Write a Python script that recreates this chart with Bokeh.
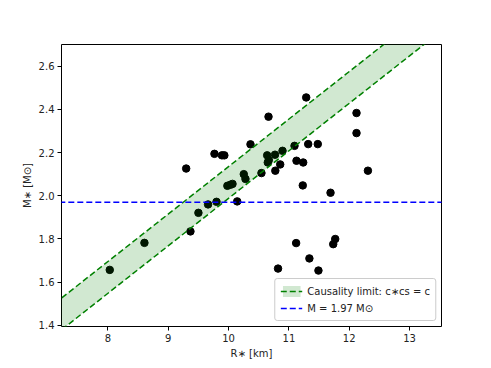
from bokeh.plotting import figure
from bokeh.models import (ColumnDataSource, Range1d, FixedTicker, Legend, LegendItem,
                          PrintfTickFormatter)
from bokeh.embed import file_html
from bokeh.resources import INLINE

# ---- data ----
radius_km = [8.03, 8.605, 9.297, 9.368, 9.50, 9.66, 9.766, 9.89, 9.93, 9.80,
             10.143, 9.98, 10.03, 10.065, 10.252, 10.28, 10.363, 10.545, 10.64, 10.662,
             10.667, 10.65, 10.77, 10.775, 10.856, 10.894, 11.093, 11.126, 11.237, 11.287,
             11.32, 11.479, 11.23, 11.69, 12.121, 12.121, 12.31, 11.12, 11.768, 11.735,
             11.34, 10.82, 11.49]
mass_msun = [1.657, 1.782, 2.126, 1.835, 1.921, 1.960, 2.194, 2.187, 2.187, 1.972,
             1.974, 2.046, 2.051, 2.055, 2.100, 2.078, 2.238, 2.105, 2.187, 2.366,
             2.165, 2.154, 2.190, 2.116, 2.145, 2.208, 2.231, 2.162, 2.154, 2.455,
             2.239, 2.239, 2.048, 2.014, 2.383, 2.290, 2.116, 1.781, 1.800, 1.776,
             1.710, 1.663, 1.654]

band_r = [7.0, 14.0]
band_upper = [1.476, 3.014]
band_lower = [1.329, 2.867]

m_limit = 1.97

x_ticks = [8, 9, 10, 11, 12, 13]
y_ticks = [1.4, 1.6, 1.8, 2.0, 2.2, 2.4, 2.6]

FONT = "DejaVu Sans"

p = figure(width=483, height=362, output_backend="svg", toolbar_location=None,
           x_range=Range1d(7.23, 13.53), y_range=Range1d(1.395, 2.70),
           min_border_left=61, min_border_right=42, min_border_top=44, min_border_bottom=36)
p.background_fill_color = "white"
p.border_fill_color = "white"
p.outline_line_color = "black"
p.outline_line_width = 1
p.outline_line_alpha = 1
p.xgrid.visible = False
p.ygrid.visible = False

for ax in (p.xaxis[0], p.yaxis[0]):
    ax.major_tick_in = 0
    ax.major_tick_out = 4
    ax.minor_tick_in = 0
    ax.minor_tick_out = 0
    ax.axis_line_color = None
    ax.major_tick_line_color = "black"
    ax.major_label_text_font = FONT
    ax.major_label_text_font_size = "10px"
    ax.major_label_text_color = "#222222"
    ax.axis_label_text_font = FONT
    ax.axis_label_text_font_size = "10px"
    ax.axis_label_text_font_style = "normal"
    ax.axis_label_text_color = "#222222"
    ax.major_label_standoff = 3
    ax.axis_label_standoff = 3

p.xaxis.ticker = FixedTicker(ticks=x_ticks)
p.yaxis.ticker = FixedTicker(ticks=y_ticks)
p.yaxis.formatter = PrintfTickFormatter(format="%.1f")
p.xaxis.axis_label = "R\u2217 [km]"
p.yaxis.axis_label = "M\u2217 [M\u2299]"

pts = ColumnDataSource(dict(r=radius_km, m=mass_msun))
p.scatter("r", "m", source=pts, size=7.5, color="black", line_color="black")

band = ColumnDataSource(dict(r=band_r, up=band_upper, lo=band_lower))
va = p.varea(x="r", y1="lo", y2="up", source=band, fill_color="green", fill_alpha=0.18)
l1 = p.line("r", "up", source=band, line_color="green", line_width=1.5, line_dash="6 3")
l2 = p.line("r", "lo", source=band, line_color="green", line_width=1.5, line_dash="6 3")

lim_src = ColumnDataSource(dict(r=[6.0, 15.0], m=[m_limit, m_limit]))
bl = p.line("r", "m", source=lim_src, line_color="blue", line_width=1.5, line_dash="6 3")

legend = Legend(items=[
    LegendItem(label="Causality limit: c\u2217cs = c", renderers=[va, l1]),
    LegendItem(label="M = 1.97 M\u2299", renderers=[bl]),
], location="bottom_right")
legend.label_text_font = FONT
legend.label_text_font_size = "10px"
legend.label_text_color = "#222222"
legend.glyph_height = 14
legend.glyph_width = 22
legend.label_height = 14
legend.spacing = 3
legend.padding = 5
legend.margin = 5
legend.border_line_color = "#cccccc"
legend.border_line_alpha = 1
legend.background_fill_alpha = 0.8
legend.border_radius = 3
p.add_layout(legend)

open("out.html", "w").write(file_html(p, INLINE))
